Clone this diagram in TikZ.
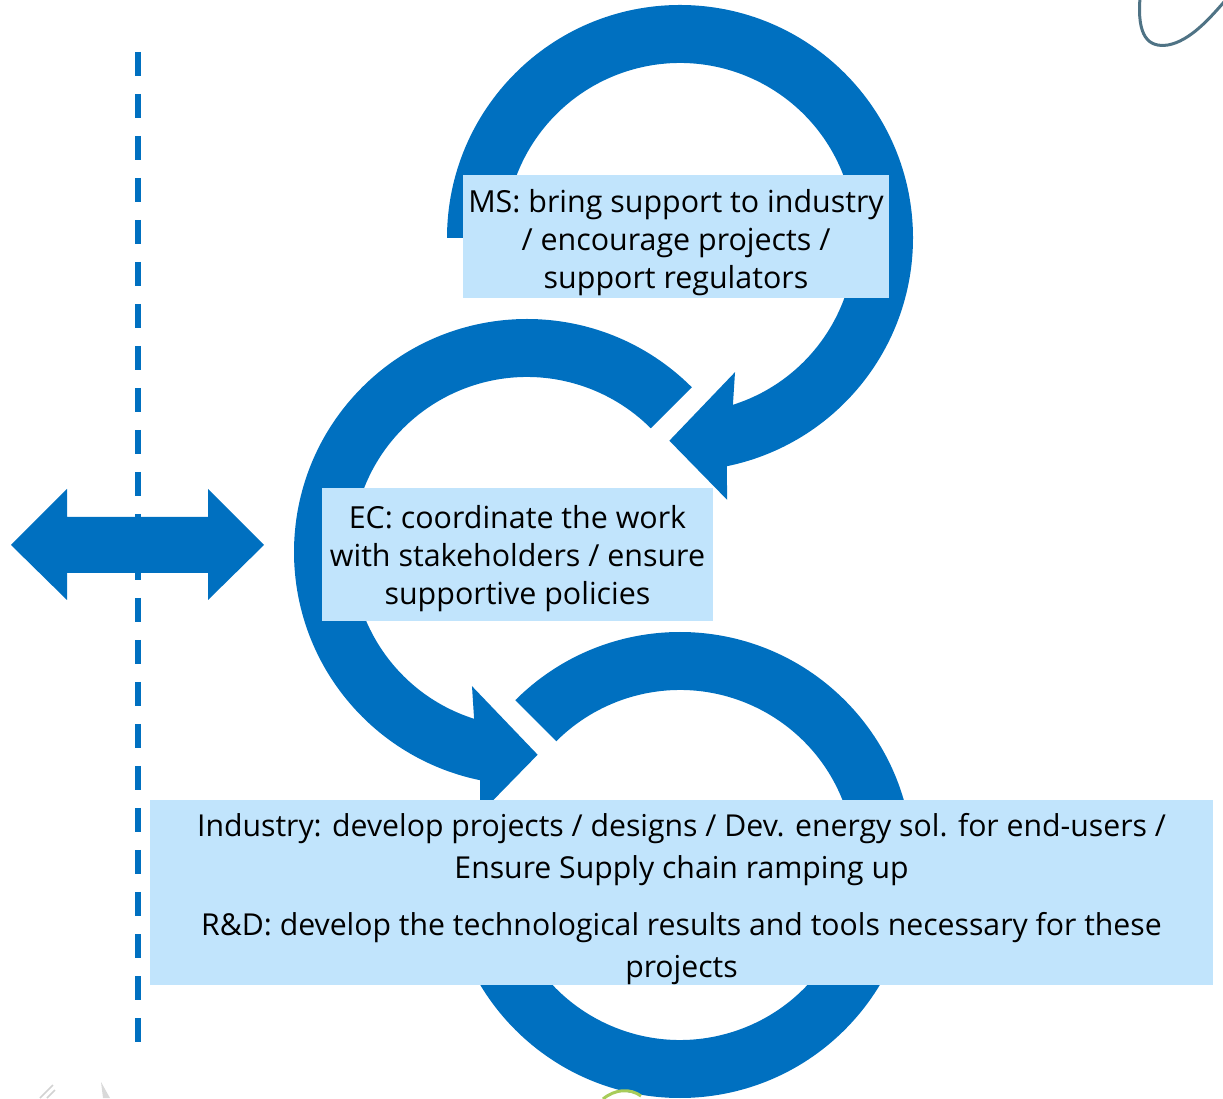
\documentclass[tikz,border=0pt]{standalone}
\usepackage{fontspec}
\setmainfont{Open Sans}
\begin{document}
\begin{tikzpicture}[x=1pt,y=1pt]
\definecolor{ringblue}{HTML}{0070C0}
\definecolor{boxblue}{HTML}{C1E4FC}
\definecolor{decoteal}{HTML}{4F7385}
\definecolor{decogreen}{HTML}{A8CC5A}
\tikzset{
  ring/.style={fill=ringblue},
  boxbg/.style={fill=boxblue, inner sep=0pt},
  boxtext/.style={inner sep=0pt, align=center, font=\fontsize{30.4}{38}\selectfont, text=black},
  dashline/.style={draw=ringblue, line width=6pt, dash pattern=on 24pt off 18pt}
}
\path[use as bounding box] (0,0) rectangle (1223,1098);
\clip (0,0) rectangle (1223,1098);

% top circular arrow
\begin{scope}[shift={(680,860)}]
\fill[ring] (180:233) arc[start angle=180, end angle=-78.4, radius=233]
  -- (-79.8:266) -- (-93:203) -- (-67.7:145) -- (-72.4:175)
  arc[start angle=-72.4, end angle=180, radius=175] -- cycle;
\end{scope}

% middle circular arrow
\begin{scope}[shift={(527,546)}]
\fill[ring] (45:233) arc[start angle=45, end angle=258.4, radius=233]
  -- (259.8:266) -- (273:203) -- (247.7:145) -- (252.4:175)
  arc[start angle=252.4, end angle=45, radius=175] -- cycle;
\end{scope}

% bottom circular arrow
\begin{scope}[shift={(680,233)}]
\fill[ring] (135:233) arc[start angle=135, end angle=-168.4, radius=233]
  -- (-169.8:266) -- (-183:203) -- (-157.7:145) -- (-162.4:175)
  arc[start angle=-162.4, end angle=135, radius=175] -- cycle;
\end{scope}

% double arrow
\fill[ring] (11,553) -- (67,609) -- (67,581) -- (208,581) -- (208,609)
  -- (264,553) -- (208,498) -- (208,525) -- (67,525) -- (67,498) -- cycle;

% dashed vertical line
\coordinate (dtop) at (138,1046);
\coordinate (dbot) at (138,56);
\draw[dashline] (dtop) -- (dbot);

% text boxes
\node[boxbg, minimum width=426pt, minimum height=123pt] (msbox) at (676,861.5) {};
\node[boxtext] (ms) at ([yshift=-6.5pt]msbox.center)
  {MS: bring support to industry\\ / encourage projects /\\ support regulators};
\node[boxbg, minimum width=391pt, minimum height=133pt] (ecbox) at (517.5,543.5) {};
\node[boxtext] (ec) at ([yshift=-4.5pt]ecbox.center)
  {EC: coordinate the work\\ with stakeholders / ensure\\ supportive policies};
\node[boxbg, minimum width=1063pt, minimum height=185pt] (indbox) at (681.5,205.5) {};
\node[boxtext, font=\fontsize{30.2}{42}\selectfont] (ind) at ([yshift=-7pt]indbox.center)
  {Industry: develop projects / designs / Dev. energy sol. for end-users /\\ Ensure Supply chain ramping up\\[15pt]
   R\&D: develop the technological results and tools necessary for these\\ projects};

% decorations (cut-off shapes at edges)
\draw[decoteal, line width=3pt, line cap=round] (1140,1100) .. controls (1137,1062) and (1148,1050) .. (1168,1053)
  .. controls (1190,1057) and (1210,1080) .. (1224,1096);
\draw[gray!35, line width=1.5pt] (40,0) -- (53,13);
\draw[gray!35, line width=1.5pt] (47,0) -- (55,8);
\fill[gray!30] (101,16) -- (110,0) -- (103,0) -- cycle;
\draw[decogreen, line width=3pt] (603,-1) .. controls (615,9) and (630,10) .. (641,2);
\end{tikzpicture}
\end{document}
